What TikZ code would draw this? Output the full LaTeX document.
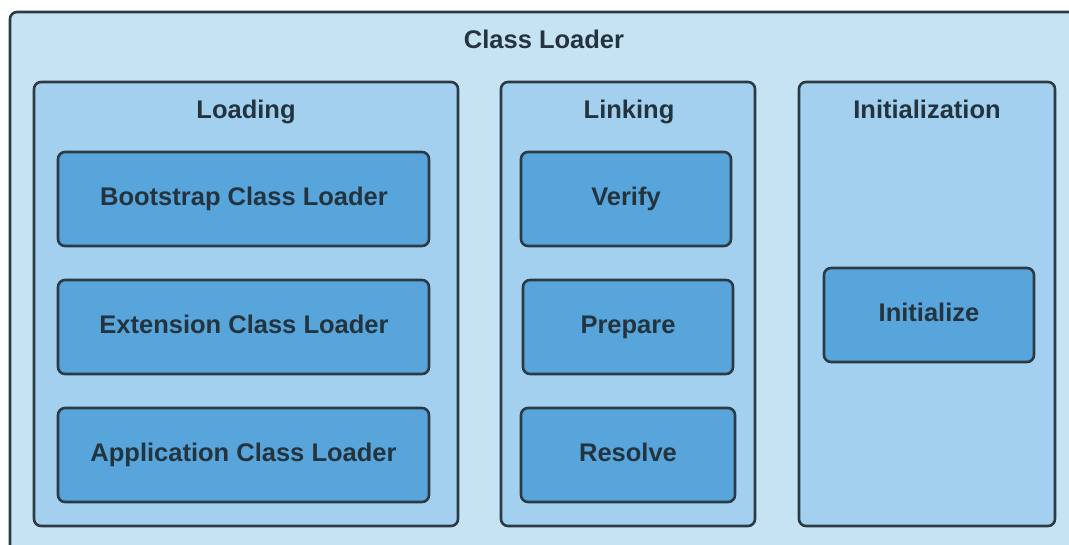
\documentclass[tikz,border=0pt]{standalone}
\usepackage{fontspec}
\setmainfont{Liberation Sans}
\definecolor{outerfill}{HTML}{C6E3F4}
\definecolor{midfill}{HTML}{A4D0EF}
\definecolor{innerfill}{HTML}{58A5DB}
\definecolor{strk}{HTML}{2C3A44}
\definecolor{txt}{HTML}{24343F}
\tikzset{
  box/.style={draw=strk, line width=2.6pt, rounded corners=7pt},
  phase/.style={box, fill=midfill},
  stepbox/.style={box, fill=innerfill},
  lbl/.style={font=\bfseries\fontsize{25.5}{30}\selectfont, text=txt, anchor=base, inner sep=0pt},
}
\begin{document}
\begin{tikzpicture}[x=1pt,y=-1pt]
\useasboundingbox (0,0) rectangle (1069,544);
\clip (0,0) rectangle (1069,544);
\fill[white] (0,0) rectangle (1069,544);
% outer
\draw[box, fill=outerfill] (10,12) rectangle (1090,570);
\node[lbl] (title) at (544,48) {Class Loader};
% phases
\draw[phase] (34,82) rectangle (458,526);
\node[lbl] (loading) at (246,118) {Loading};
\draw[phase] (501,82) rectangle (755,526);
\node[lbl] (linking) at (629,118) {Linking};
\draw[phase] (799,82) rectangle (1055,526);
\node[lbl] (init) at (927,118) {Initialization};
% steps
\draw[stepbox] (58,152) rectangle (429,246);
\node[lbl] (boot) at (244,205) {Bootstrap Class Loader};
\draw[stepbox] (58,280) rectangle (429,374);
\node[lbl] (ext) at (244,333) {Extension Class Loader};
\draw[stepbox] (58,408) rectangle (429,502);
\node[lbl] (app) at (243.5,461) {Application Class Loader};
\draw[stepbox] (521,152) rectangle (731,246);
\node[lbl] (verify) at (626,205) {Verify};
\draw[stepbox] (523,280) rectangle (733,374);
\node[lbl] (prepare) at (628,333) {Prepare};
\draw[stepbox] (521,408) rectangle (735,502);
\node[lbl] (resolve) at (628,461) {Resolve};
\draw[stepbox] (824,268) rectangle (1034,362);
\node[lbl] (initialize) at (929,321) {Initialize};
\end{tikzpicture}
\end{document}
